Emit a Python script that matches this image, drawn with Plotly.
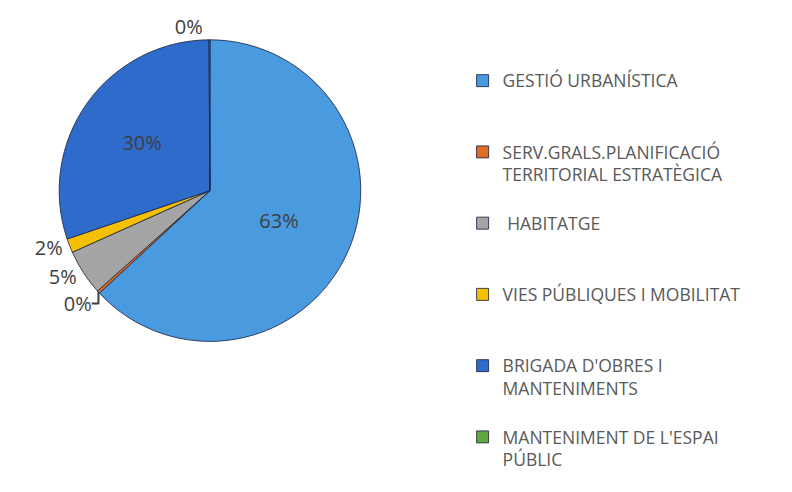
import plotly.graph_objects as go

categories = [
    "GESTIÓ URBANÍSTICA",
    "SERV.GRALS.PLANIFICACIÓ<br>TERRITORIAL ESTRATÈGICA",
    " HABITATGE",
    "VIES PÚBLIQUES I MOBILITAT",
    "BRIGADA D'OBRES I<br>MANTENIMENTS",
    "MANTENIMENT DE L'ESPAI<br>PÚBLIC",
]
values = [63.1, 0.3, 4.9, 1.5, 30.1, 0.1]
colors = ["#4A9AE0", "#E46C20", "#A5A5A5", "#F5C000", "#2F6BCB", "#62A83A"]
text_positions = ["inside", "outside", "outside", "outside", "inside", "outside"]

# pad labels to equal line counts so legend entries are evenly spaced
legend_labels = []
for i, c in enumerate(categories):
    n = c.count("<br>") + 1
    pad = "<br> " * (2 - n)
    if i < len(categories) - 1:
        pad += "<br> "
    legend_labels.append(c + pad)

label_font = dict(family="Open Sans", size=20, color="#404040")

fig = go.Figure(
    go.Pie(
        labels=legend_labels,
        values=values,
        sort=False,
        direction="clockwise",
        rotation=0,
        marker=dict(colors=colors, line=dict(color="rgba(30,40,70,0.85)", width=1)),
        texttemplate="%{percent:.0%}",
        textposition=text_positions,
        textfont=label_font,
        insidetextfont=label_font,
        outsidetextfont=label_font,
        insidetextorientation="horizontal",
        domain=dict(x=[0.063, 0.447], y=[0.325, 0.943]),
        hoverinfo="label+percent",
    )
)

fig.update_layout(
    width=792,
    height=492,
    margin=dict(l=0, r=0, t=0, b=0),
    paper_bgcolor="white",
    plot_bgcolor="white",
    showlegend=True,
    legend=dict(
        x=0.574,
        y=0.896,
        xanchor="left",
        yanchor="top",
        valign="top",
        font=dict(family="Open Sans", size=17.5, color="#595959"),
        itemwidth=30,
        tracegroupgap=0,
    ),
)

fig.write_html("out.html")
